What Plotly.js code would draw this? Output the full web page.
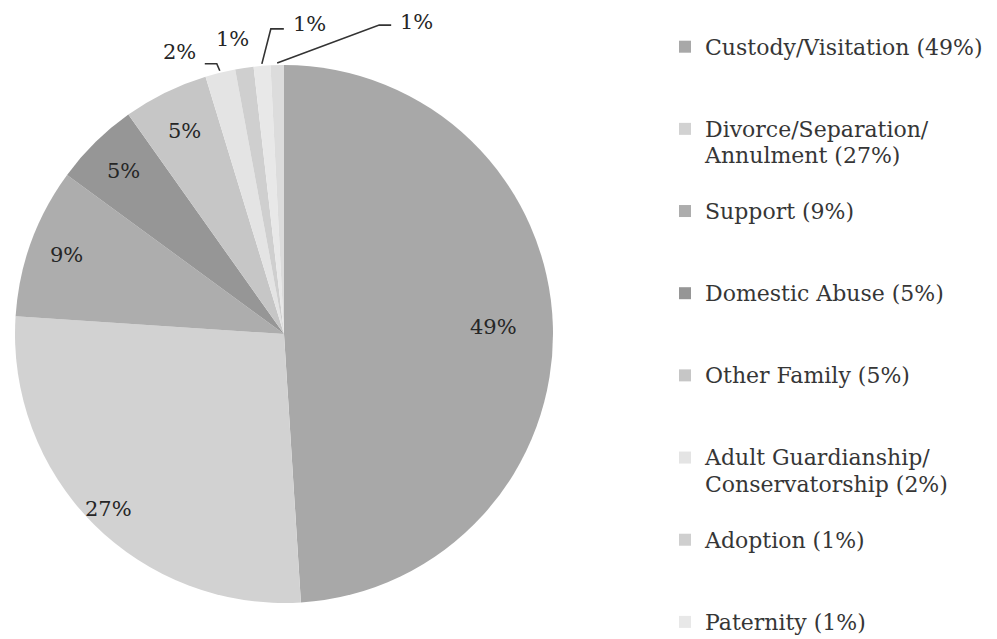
<!DOCTYPE html>
<html>
<head>
<meta charset="utf-8">
<script src="https://cdn.plot.ly/plotly-3.0.1.min.js"></script>
<style>html,body{margin:0;padding:0;background:#fff;}#chart{width:997px;height:639px;}</style>
</head>
<body>
<div id="chart"></div>
<script>
// ---- data ----
const categories = ["Custody/Visitation", "Divorce/Separation/<br>Annulment", "Support", "Domestic Abuse",
  "Other Family", "Adult Guardianship/<br>Conservatorship", "Adoption", "Paternity", "Name Change"];
const values = [48.9, 27.0, 9.0, 5.1, 5.1, 1.8, 1.1, 1.0, 0.8];
const percentLabels = ["49%", "27%", "9%", "5%", "5%", "2%", "1%", "1%", "1%"];
const sliceColors = ["#a8a8a8", "#d2d2d2", "#adadad", "#969696", "#c6c6c6", "#e4e4e4", "#cfcfcf", "#e8e8e8", "#dcdcdc"];

// ---- layout constants ----
const W = 997, H = 639;
const dom = {x: [15 / W, 553 / W], y: [36 / H, 574 / H]};
const FONT = "DejaVu Serif";
const insideRadius = [0.78, 0.92, 0.86, 0.85, 0.84];
// small-slice label offsets (px) from the slice's outer edge point, and leader paths
const outside = {
  5: {text: [-40, -19], path: [[-3, -7], [-15, -7]]},
  6: {text: [-12, -27], path: null},
  7: {text: [48, -40], path: [[9, -35], [22, -35]]},
  8: {text: [139, -41], path: [[102, -38], [114, -38]]}
};

const LINES = 3;
const legendLabels = categories.map((c, i) => {
  const txt = c + " (" + percentLabels[i] + ")";
  const parts = txt.split("<br>");
  let s = parts.map(p => '<span style="font-size:22px">' + p + '</span>').join("<br>");
  for (let k = parts.length; k < LINES; k++) s += "<br>\u00a0";
  return s;
});

// geometry derived from the domain
const cx = (dom.x[0] + dom.x[1]) / 2 * W;
const cy = (1 - (dom.y[0] + dom.y[1]) / 2) * H;
const R = Math.min((dom.x[1] - dom.x[0]) * W, (dom.y[1] - dom.y[0]) * H) / 2;
const total = values.reduce((a, b) => a + b, 0);
const px = x => x / W, py = y => 1 - y / H;
const labelFont = {family: FONT, size: 21, color: "#262626"};

const annotations = [], shapes = [];
let cum = 0;
values.forEach((v, i) => {
  const mid = (cum + v / 2) / total * 2 * Math.PI;
  cum += v;
  const sx = Math.sin(mid), sy = -Math.cos(mid);
  let tx, ty;
  if (i < insideRadius.length) {
    const r = insideRadius[i] * R;
    tx = cx + r * sx; ty = cy + r * sy;
  } else {
    const o = outside[i];
    const ex = cx + (R + 2) * sx, ey = cy + (R + 2) * sy;
    tx = ex + o.text[0]; ty = ey + o.text[1];
    if (o.path) {
      let d = "M" + px(ex) + "," + py(ey);
      o.path.forEach(p => { d += " L" + px(ex + p[0]) + "," + py(ey + p[1]); });
      shapes.push({type: "path", xref: "paper", yref: "paper", path: d, line: {color: "#333", width: 1.6}});
    }
  }
  annotations.push({x: px(tx), y: py(ty), xref: "paper", yref: "paper", xanchor: "center", yanchor: "middle",
    text: percentLabels[i], showarrow: false, font: labelFont});
});

const trace = {
  type: "pie",
  labels: legendLabels,
  values: values,
  sort: false,
  direction: "clockwise",
  rotation: 0,
  textinfo: "none",
  hoverinfo: "none",
  marker: {colors: sliceColors, line: {width: 0}},
  domain: dom
};

const layout = {
  width: W, height: H,
  margin: {l: 0, r: 0, t: 0, b: 0, autoexpand: false},
  paper_bgcolor: "#fff",
  showlegend: true,
  legend: {x: 665 / W, xanchor: "left", y: 1 - 27 / H, yanchor: "top", valign: "top",
    font: {family: FONT, size: 20.3, color: "#363636"}, maxheight: 3000, bgcolor: "rgba(0,0,0,0)"},
  annotations: annotations,
  shapes: shapes
};

Plotly.newPlot("chart", [trace], layout, {staticPlot: true});
</script>
</body>
</html>
